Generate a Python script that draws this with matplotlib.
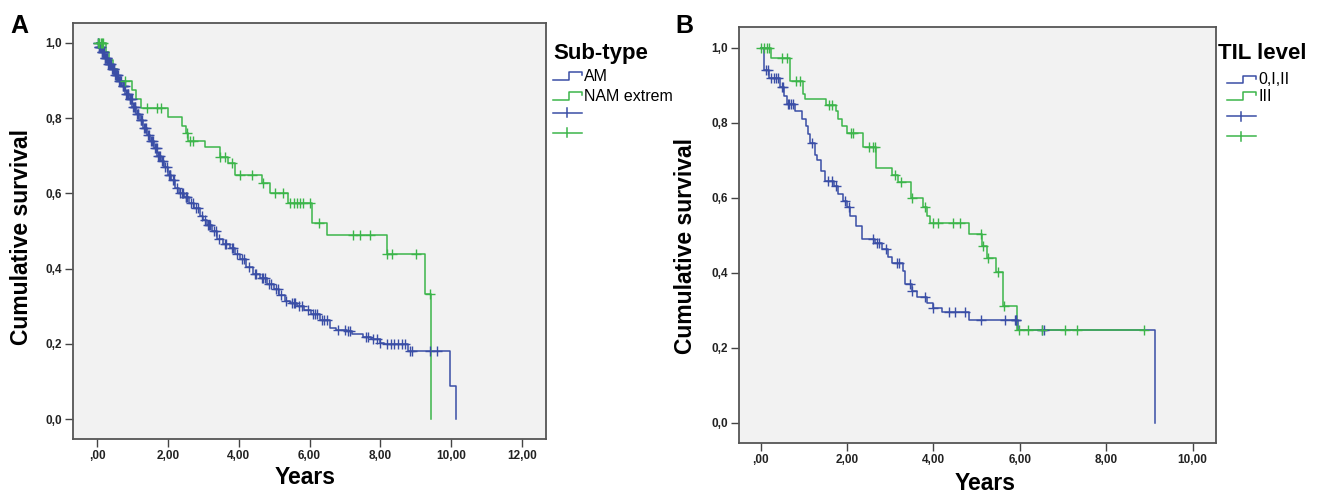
import numpy as np
import matplotlib
matplotlib.use("Agg")
import matplotlib.pyplot as plt
from matplotlib.lines import Line2D
from matplotlib.ticker import FuncFormatter

plt.rcParams['font.family'] = ['Liberation Sans', 'DejaVu Sans']

# Panel A - sub-type (event times in years, survival after each event)
am_times = [0.05, 0.12, 0.2, 0.3, 0.4, 0.5, 0.6, 0.7, 0.8, 0.9, 1.0, 1.1, 1.2, 1.3,
            1.4, 1.5, 1.6, 1.7, 1.8, 1.9, 2.0, 2.1, 2.2, 2.3, 2.45, 2.6, 2.75, 2.9,
            3.0, 3.1, 3.25, 3.4, 3.55, 3.75, 3.9, 4.05, 4.2, 4.4, 4.6, 4.8, 5.0,
            5.15, 5.3, 5.45, 5.65, 5.85, 6.05, 6.3, 6.58, 6.75, 7.05, 7.2, 7.52,
            7.75, 7.99, 8.1, 8.78, 9.97, 10.14]
am_surv = [0.99, 0.975, 0.96, 0.945, 0.93, 0.915, 0.90, 0.885, 0.865, 0.85, 0.83,
           0.81, 0.795, 0.775, 0.755, 0.74, 0.72, 0.70, 0.685, 0.67, 0.65, 0.635,
           0.615, 0.60, 0.59, 0.575, 0.56, 0.54, 0.53, 0.515, 0.50, 0.48, 0.465,
           0.455, 0.44, 0.425, 0.405, 0.385, 0.375, 0.36, 0.345, 0.33, 0.315, 0.308,
           0.30, 0.29, 0.28, 0.263, 0.241, 0.238, 0.234, 0.225, 0.219, 0.212, 0.203,
           0.199, 0.18, 0.088, 0.0]
am_cens = [0.02, 0.03, 0.05, 0.06, 0.08, 0.09, 0.11, 0.13, 0.14, 0.16, 0.18, 0.19,
           0.21, 0.23, 0.25, 0.27, 0.29, 0.31, 0.33, 0.34, 0.36, 0.37, 0.39, 0.42,
           0.44, 0.45, 0.47, 0.48, 0.52, 0.53, 0.55, 0.57, 0.59, 0.62, 0.64, 0.66,
           0.68, 0.72, 0.74, 0.76, 0.78, 0.82, 0.84, 0.86, 0.88, 0.92, 0.94, 0.96,
           0.98, 1.02, 1.04, 1.06, 1.08, 1.12, 1.15, 1.17, 1.23, 1.25, 1.27, 1.33,
           1.35, 1.38, 1.45, 1.48, 1.52, 1.55, 1.57, 1.63, 1.66, 1.68, 1.72, 1.75,
           1.78, 1.84, 1.87, 1.93, 1.97, 2.03, 2.05, 2.07, 2.15, 2.18, 2.25, 2.35,
           2.4, 2.42, 2.5, 2.52, 2.55, 2.65, 2.7, 2.8, 2.85, 2.95, 3.05, 3.13, 3.15,
           3.18, 3.3, 3.35, 3.45, 3.6, 3.65, 3.8, 3.85, 3.95, 4.1, 4.15, 4.3, 4.45,
           4.5, 4.65, 4.7, 4.75, 4.85, 4.9, 5.05, 5.1, 5.2, 5.35, 5.5, 5.55, 5.6,
           5.7, 5.8, 5.95, 6.1, 6.15, 6.2, 6.35, 6.4, 6.5, 6.8, 7.0, 7.1, 7.15,
           7.6, 7.65, 7.8, 7.9, 8.0, 8.2, 8.3, 8.4, 8.5, 8.6, 8.7, 8.85, 8.9, 9.4,
           9.6]

nam_times = [0.25, 0.35, 0.45, 0.55, 0.98, 1.1, 1.25, 2.0, 2.4, 2.5, 2.58, 3.05,
             3.47, 3.7, 3.9, 4.65, 4.89, 5.4, 6.08, 6.49, 8.18, 9.27, 9.44]
nam_surv = [0.975, 0.955, 0.93, 0.90, 0.875, 0.85, 0.826, 0.804, 0.78, 0.76, 0.74,
            0.724, 0.698, 0.68, 0.648, 0.627, 0.60, 0.575, 0.52, 0.489, 0.439,
            0.332, 0.0]
nam_cens = [0.02, 0.06, 0.1, 0.14, 0.18, 0.79, 1.4, 1.7, 1.8, 2.55, 2.62, 2.7,
            3.47, 3.6, 3.82, 4.04, 4.37, 4.7, 5.03, 5.26, 5.45, 5.55, 5.65, 5.72,
            5.82, 6.02, 6.27, 7.24, 7.43, 7.71, 8.2, 8.32, 9.01, 9.41]

# Panel B - TIL level
til_low_times = [0.08, 0.2, 0.45, 0.55, 0.6, 0.8, 0.95, 1.05, 1.1, 1.15, 1.25, 1.3,
                 1.4, 1.5, 1.7, 1.8, 1.9, 2.0, 2.08, 2.2, 2.35, 2.65, 2.8, 2.95,
                 3.05, 3.3, 3.35, 3.5, 3.62, 3.85, 4.0, 4.2, 4.82, 5.96, 9.12]
til_low_surv = [0.94, 0.92, 0.895, 0.87, 0.85, 0.83, 0.81, 0.79, 0.77, 0.745, 0.715,
                0.70, 0.67, 0.645, 0.63, 0.61, 0.59, 0.575, 0.55, 0.525, 0.49, 0.478,
                0.462, 0.443, 0.425, 0.405, 0.37, 0.352, 0.335, 0.318, 0.305, 0.295,
                0.273, 0.246, 0.0]
til_low_cens = [0.12, 0.18, 0.25, 0.3, 0.35, 0.4, 0.5, 0.52, 0.63, 0.66, 0.7, 0.75,
                1.18, 1.57, 1.65, 1.75, 1.95, 2.05, 2.6, 2.7, 2.75, 2.9, 3.15, 3.2,
                3.45, 3.5, 3.8, 4.0, 4.35, 4.5, 4.72, 5.1, 5.65, 5.88, 5.9, 5.92,
                6.52, 6.55]

til_high_times = [0.25, 0.68, 0.97, 1.03, 1.52, 1.75, 1.8, 1.88, 2.0, 2.37, 2.67,
                  3.04, 3.19, 3.48, 3.75, 3.86, 3.93, 4.82, 5.13, 5.25, 5.45, 5.62,
                  5.94]
til_high_surv = [0.972, 0.912, 0.876, 0.862, 0.848, 0.83, 0.81, 0.79, 0.772, 0.736,
                 0.678, 0.66, 0.642, 0.598, 0.575, 0.55, 0.532, 0.503, 0.47, 0.44,
                 0.402, 0.31, 0.246]
til_high_cens = [0.02, 0.08, 0.14, 0.2, 0.5, 0.6, 0.82, 0.92, 1.58, 1.65, 2.1, 2.15,
                 2.5, 2.6, 2.65, 3.1, 3.25, 3.5, 3.8, 3.99, 4.1, 4.46, 4.61, 5.1,
                 5.15, 5.27, 5.5, 5.64, 5.98, 6.2, 6.51, 7.05, 7.32, 8.87]

BLUE = '#3a4ea6'
GREEN = '#3cb54a'
W, H = 1321, 492


def px(x, y):
    return x / W, 1 - y / H


def draw_km(ax, times, surv, cens, color):
    t = np.r_[0.0, times]
    s = np.r_[1.0, surv]
    if max(cens) > t[-1]:
        t = np.r_[t, max(cens)]
        s = np.r_[s, s[-1]]
    ax.step(t, s, where='post', color=color, lw=1.1, zorder=3)
    c = np.array(cens)
    lvl = s[np.searchsorted(t, c, side='right') - 1]
    ax.plot(c, lvl, ls='none', marker='+', ms=7, mew=1.0, color=color, zorder=4)


def fmt_x(v, pos):
    txt = f"{v:.2f}".replace('.', ',')
    return txt[1:] if txt.startswith('0,') else txt


def style_axes(ax, xmax_tick, xlim, ylim):
    ax.set_facecolor('#f2f2f2')
    ax.set_xlim(*xlim)
    ax.set_ylim(*ylim)
    ax.set_xticks(np.arange(0, xmax_tick + 0.1, 2))
    ax.set_yticks(np.arange(0, 1.01, 0.2))
    ax.xaxis.set_major_formatter(FuncFormatter(fmt_x))
    ax.yaxis.set_major_formatter(FuncFormatter(lambda v, p: f"{v:.1f}".replace('.', ',')))
    ax.tick_params(direction='out', length=6, width=1.0, color='#444444',
                   labelsize=8.5, labelcolor='#222222', pad=2)
    for lab in ax.get_xticklabels() + ax.get_yticklabels():
        lab.set_fontweight('bold')
    for sp in ax.spines.values():
        sp.set_color('#555555')
        sp.set_linewidth(1.3)


def legend(fig, x0, title, labels, ys, title_x):
    tx, ty = px(title_x, ys[0])
    fig.text(tx, ty, title, fontsize=16, fontweight='bold', ha='left', va='center')
    for (lab, col), yc in zip(labels, ys[1:3]):
        xs = [x0, x0 + 16, x0 + 16, x0 + 29, x0 + 29]
        yy = [yc + 3, yc + 3, yc - 4.5, yc - 4.5, yc - 1.5]
        fx, fy = zip(*[px(a, b) for a, b in zip(xs, yy)])
        fig.add_artist(Line2D(fx, fy, color=col, lw=1.1, transform=fig.transFigure))
        lx, ly = px(x0 + 31, yc)
        fig.text(lx, ly, lab, fontsize=11.5, ha='left', va='center')
    for col, yc in zip([BLUE, GREEN], ys[3:5]):
        fx, fy = zip(px(x0, yc), px(x0 + 29, yc))
        fig.add_artist(Line2D(fx, fy, color=col, lw=1.1, transform=fig.transFigure))
        fx, fy = zip(px(x0 + 14, yc - 4.5), px(x0 + 14, yc + 4.5))
        fig.add_artist(Line2D(fx, fy, color=col, lw=1.1, transform=fig.transFigure))


fig = plt.figure(figsize=(W / 100, H / 100), dpi=100)
fig.patch.set_facecolor('white')

# Panel A
axA = fig.add_axes([73 / W, (H - 439) / H, 473 / W, 416 / H])
draw_km(axA, am_times, am_surv, am_cens, BLUE)
draw_km(axA, nam_times, nam_surv, nam_cens, GREEN)
style_axes(axA, 12, (-0.68, 12.68), (-0.053, 1.053))

# Panel B
axB = fig.add_axes([739 / W, (H - 443.3) / H, 477 / W, 416.6 / H])
draw_km(axB, til_low_times, til_low_surv, til_low_cens, BLUE)
draw_km(axB, til_high_times, til_high_surv, til_high_cens, GREEN)
style_axes(axB, 10, (-0.5, 10.54), (-0.055, 1.056))

# axis labels and panel letters
for (x, y), txt, rot in [((22, 237), 'Cumulative survival', 90),
                         ((686, 246), 'Cumulative survival', 90),
                         ((305, 477), 'Years', 0),
                         ((985, 483), 'Years', 0)]:
    fx, fy = px(x, y)
    fig.text(fx, fy, txt, fontsize=16.5, fontweight='bold', rotation=rot,
             ha='center', va='center')
for (x, y), txt in [((19, 26), 'A'), ((684, 26), 'B')]:
    fx, fy = px(x, y)
    fig.text(fx, fy, txt, fontsize=18, fontweight='bold', ha='center', va='center')

legend(fig, 553, 'Sub-type', [('AM', BLUE), ('NAM extrem', GREEN)],
       [53, 76.5, 96.5, 112.7, 132.7], 553)
legend(fig, 1227, 'TIL level', [('0,I,II', BLUE), ('III', GREEN)],
       [53.3, 80, 96.5, 116, 136], 1218)

fig.savefig('out.png', dpi=100)
